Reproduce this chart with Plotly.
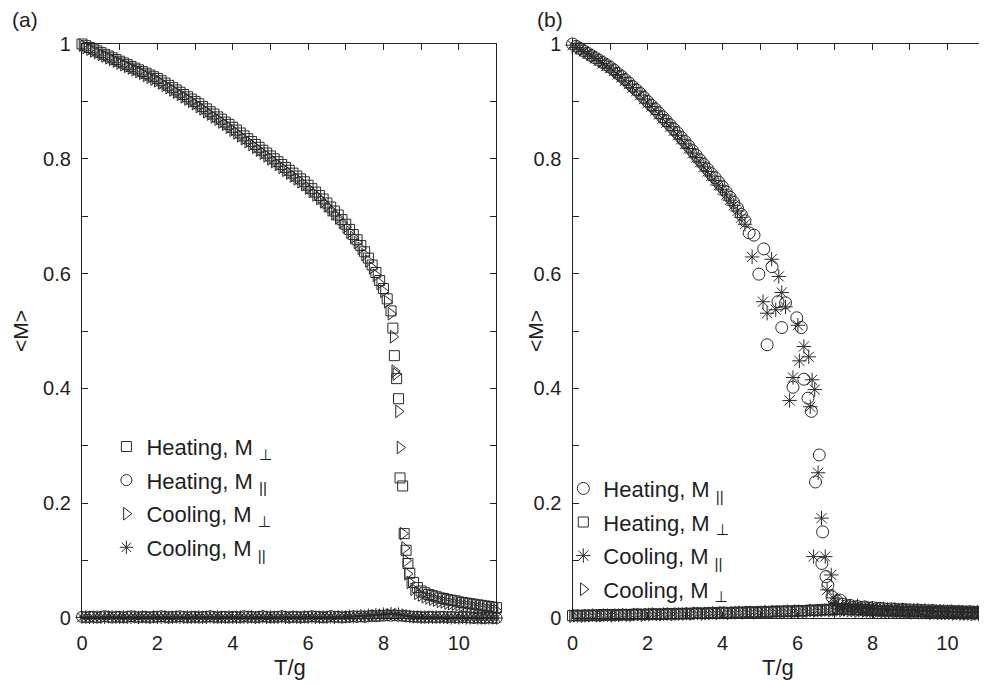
import numpy as np
import plotly.graph_objects as go

# ---------------- data: panel (a) ----------------
# upper branch (M_perp), T = 0.0 .. 8.2 step 0.1
a_sq_smooth = [1.000, 0.997, 0.994, 0.991, 0.988, 0.985, 0.982, 0.979, 0.976, 0.973,
               0.970, 0.967, 0.964, 0.961, 0.958, 0.955, 0.952, 0.949, 0.946, 0.943,
               0.940, 0.936, 0.932, 0.928, 0.924, 0.920, 0.916, 0.912, 0.908, 0.904,
               0.900, 0.896, 0.891, 0.887, 0.882, 0.878, 0.873, 0.869, 0.864, 0.860,
               0.855, 0.850, 0.845, 0.840, 0.835, 0.830, 0.825, 0.820, 0.815, 0.810,
               0.805, 0.800, 0.795, 0.790, 0.785, 0.780, 0.775, 0.770, 0.765, 0.760,
               0.754, 0.748, 0.742, 0.736, 0.730, 0.723, 0.716, 0.709, 0.702, 0.694,
               0.686, 0.677, 0.668, 0.659, 0.649, 0.638, 0.627, 0.615, 0.602, 0.588,
               0.574, 0.556, 0.535]
a_sq_tr_T = [8.25, 8.29, 8.35, 8.40, 8.44, 8.51, 8.55, 8.60, 8.65, 8.70, 8.80, 8.90]
a_sq_tr_M = [0.505, 0.457, 0.417, 0.382, 0.244, 0.230, 0.147, 0.118, 0.095, 0.078, 0.062, 0.053]
# tail, T = 9.0 .. 11.0 step 0.1
a_sq_tail = [0.047, 0.044, 0.041, 0.039, 0.037, 0.035, 0.034, 0.032, 0.031, 0.030,
             0.028, 0.027, 0.026, 0.025, 0.024, 0.023, 0.022, 0.021, 0.020, 0.019, 0.018]

a_tri_smooth = [0.998, 0.994, 0.991, 0.988, 0.985, 0.982, 0.979, 0.976, 0.973, 0.970,
                0.967, 0.964, 0.961, 0.958, 0.955, 0.952, 0.949, 0.945, 0.942, 0.939,
                0.936, 0.932, 0.928, 0.924, 0.920, 0.916, 0.912, 0.908, 0.904, 0.900,
                0.896, 0.891, 0.887, 0.882, 0.878, 0.873, 0.869, 0.864, 0.860, 0.855,
                0.850, 0.845, 0.840, 0.835, 0.830, 0.825, 0.820, 0.815, 0.810, 0.805,
                0.800, 0.795, 0.790, 0.785, 0.780, 0.775, 0.770, 0.765, 0.760, 0.755,
                0.749, 0.743, 0.737, 0.731, 0.725, 0.718, 0.711, 0.704, 0.697, 0.689,
                0.681, 0.672, 0.663, 0.654, 0.644, 0.633, 0.622, 0.610, 0.597, 0.583,
                0.569, 0.551, 0.530]
a_tri_tr_T = [8.26, 8.30, 8.33, 8.40, 8.44, 8.52, 8.56, 8.60, 8.64, 8.70, 8.80, 8.90]
a_tri_tr_M = [0.490, 0.430, 0.425, 0.360, 0.297, 0.147, 0.122, 0.100, 0.077, 0.062, 0.050, 0.043]
a_tri_tail = [0.040, 0.037, 0.035, 0.033, 0.031, 0.029, 0.028, 0.026, 0.025, 0.024,
              0.023, 0.022, 0.021, 0.020, 0.019, 0.018, 0.017, 0.016, 0.015, 0.014, 0.013]

# lower branch (M_par), T = 0.0 .. 11.0 step 0.1
a_circ = [0.002, 0.001, 0.002, 0.002, 0.001, 0.002, 0.003, 0.002, 0.001, 0.002,
          0.002, 0.001, 0.002, 0.003, 0.002, 0.001, 0.002, 0.002, 0.001, 0.002,
          0.002, 0.003, 0.002, 0.001, 0.002, 0.002, 0.003, 0.002, 0.001, 0.002,
          0.002, 0.001, 0.002, 0.002, 0.003, 0.002, 0.001, 0.002, 0.002, 0.001,
          0.002, 0.002, 0.001, 0.003, 0.002, 0.002, 0.001, 0.002, 0.003, 0.002,
          0.001, 0.002, 0.002, 0.003, 0.002, 0.001, 0.002, 0.002, 0.001, 0.002,
          0.002, 0.003, 0.002, 0.002, 0.001, 0.002, 0.003, 0.002, 0.002, 0.001,
          0.002, 0.002, 0.003, 0.002, 0.003, 0.002, 0.003, 0.004, 0.003, 0.004,
          0.004, 0.005, 0.004, 0.005, 0.004, 0.004, 0.003, 0.003, 0.002, 0.002,
          0.002, 0.001, 0.002, 0.002, 0.001, 0.002, 0.002, 0.001, 0.002, 0.001,
          0.001, 0.002, 0.001, 0.001, 0.000, 0.001, 0.000, 0.000, 0.001, 0.000, 0.000]
a_star = [0.001, 0.002, 0.001, 0.001, 0.002, 0.001, 0.001, 0.002, 0.002, 0.001,
          0.001, 0.002, 0.001, 0.001, 0.002, 0.001, 0.002, 0.001, 0.001, 0.002,
          0.001, 0.001, 0.002, 0.001, 0.001, 0.002, 0.001, 0.001, 0.002, 0.001,
          0.001, 0.002, 0.001, 0.001, 0.002, 0.001, 0.002, 0.001, 0.001, 0.002,
          0.001, 0.001, 0.002, 0.001, 0.001, 0.002, 0.001, 0.001, 0.002, 0.001,
          0.002, 0.001, 0.001, 0.002, 0.001, 0.001, 0.002, 0.001, 0.001, 0.002,
          0.001, 0.002, 0.001, 0.001, 0.002, 0.001, 0.002, 0.001, 0.002, 0.002,
          0.002, 0.003, 0.002, 0.003, 0.004, 0.003, 0.005, 0.004, 0.006, 0.005,
          0.007, 0.006, 0.008, 0.006, 0.007, 0.005, 0.004, 0.003, 0.002, 0.002,
          0.001, 0.002, 0.001, 0.001, 0.002, 0.001, 0.001, 0.001, 0.000, 0.001,
          0.000, 0.001, 0.000, 0.000, 0.001, 0.000, 0.000, 0.000, 0.000, 0.000, 0.000]

# ---------------- data: panel (b) ----------------
# upper branch (M_par) smooth, T = 0.0 .. 4.6 step 0.1
b_circ_smooth = [1.000, 0.996, 0.992, 0.988, 0.984, 0.980, 0.976, 0.972, 0.968, 0.964,
                 0.960, 0.955, 0.949, 0.944, 0.938, 0.932, 0.926, 0.920, 0.914, 0.907,
                 0.900, 0.893, 0.887, 0.880, 0.873, 0.866, 0.859, 0.852, 0.845, 0.837,
                 0.830, 0.822, 0.814, 0.806, 0.798, 0.790, 0.782, 0.774, 0.767, 0.759,
                 0.751, 0.742, 0.733, 0.724, 0.714, 0.703, 0.692]
b_circ_tr_T = [4.71, 4.84, 5.10, 4.97, 5.32, 5.48, 5.68, 5.98, 6.10, 5.58, 5.19, 6.17,
               5.88, 6.28, 6.37, 6.58, 6.48, 6.67, 6.65, 6.76, 6.81, 6.92, 7.05, 7.14]
b_circ_tr_M = [0.671, 0.667, 0.643, 0.599, 0.612, 0.551, 0.549, 0.523, 0.506, 0.506, 0.476, 0.416,
               0.402, 0.383, 0.360, 0.284, 0.237, 0.150, 0.095, 0.072, 0.057, 0.037, 0.030, 0.031]
# tail, T = 7.2 .. 11.0 step 0.1
b_circ_tail = [0.024, 0.021, 0.022, 0.019, 0.020, 0.018, 0.019, 0.017,
               0.018, 0.016, 0.017, 0.016, 0.015, 0.016, 0.015, 0.014, 0.015, 0.014,
               0.014, 0.013, 0.014, 0.013, 0.013, 0.012, 0.013, 0.012, 0.012, 0.012,
               0.011, 0.012, 0.011, 0.011, 0.011, 0.010, 0.011, 0.010, 0.010, 0.010, 0.010]

b_star_smooth = [0.998, 0.994, 0.991, 0.987, 0.983, 0.979, 0.975, 0.971, 0.966, 0.962,
                 0.958, 0.953, 0.947, 0.942, 0.936, 0.930, 0.924, 0.918, 0.911, 0.904,
                 0.897, 0.891, 0.884, 0.877, 0.870, 0.863, 0.856, 0.849, 0.841, 0.834,
                 0.826, 0.818, 0.810, 0.802, 0.794, 0.786, 0.778, 0.770, 0.762, 0.754,
                 0.746, 0.737, 0.728, 0.719, 0.709, 0.698, 0.686]
b_star_tr_T = [4.79, 5.31, 5.50, 5.58, 5.08, 5.19, 5.42, 5.68, 6.01, 6.17, 6.05, 6.30,
               5.88, 6.39, 6.46, 5.79, 6.34, 6.55, 6.64, 6.43, 6.74, 6.90, 6.79, 6.95, 7.02]
b_star_tr_M = [0.629, 0.625, 0.595, 0.567, 0.551, 0.531, 0.537, 0.542, 0.510, 0.473, 0.448, 0.455,
               0.419, 0.415, 0.398, 0.379, 0.368, 0.253, 0.174, 0.107, 0.107, 0.075, 0.049, 0.035, 0.025]
# tail, T = 7.1 .. 11.0 step 0.1
b_star_tail = [0.022, 0.020, 0.023, 0.018, 0.019, 0.021, 0.017, 0.018, 0.016,
               0.017, 0.016, 0.015, 0.016, 0.015, 0.014, 0.015, 0.014, 0.014, 0.013,
               0.013, 0.014, 0.013, 0.012, 0.013, 0.012, 0.012, 0.011, 0.012, 0.011,
               0.011, 0.011, 0.010, 0.011, 0.010, 0.010, 0.010, 0.009, 0.010, 0.009, 0.009]

# lower branch (M_perp), T = 0.0 .. 11.0 step 0.1
b_sq = [0.004, 0.004, 0.005, 0.004, 0.005, 0.005, 0.004, 0.005, 0.006, 0.005,
        0.005, 0.006, 0.005, 0.006, 0.006, 0.005, 0.006, 0.007, 0.006, 0.006,
        0.007, 0.006, 0.007, 0.007, 0.006, 0.007, 0.008, 0.007, 0.007, 0.008,
        0.008, 0.007, 0.008, 0.009, 0.008, 0.008, 0.009, 0.009, 0.008, 0.009,
        0.010, 0.009, 0.009, 0.010, 0.010, 0.009, 0.010, 0.011, 0.010, 0.010,
        0.011, 0.011, 0.010, 0.011, 0.012, 0.011, 0.012, 0.012, 0.011, 0.012,
        0.013, 0.012, 0.013, 0.013, 0.014, 0.013, 0.014, 0.015, 0.014, 0.015,
        0.016, 0.015, 0.016, 0.015, 0.015, 0.014, 0.015, 0.014, 0.014, 0.013,
        0.014, 0.013, 0.013, 0.012, 0.013, 0.012, 0.012, 0.012, 0.011, 0.012,
        0.011, 0.011, 0.012, 0.011, 0.011, 0.010, 0.011, 0.010, 0.011, 0.010,
        0.010, 0.010, 0.011, 0.010, 0.010, 0.009, 0.010, 0.010, 0.009, 0.010, 0.009]
b_tri = [0.003, 0.004, 0.004, 0.003, 0.004, 0.004, 0.005, 0.004, 0.004, 0.005,
         0.005, 0.004, 0.005, 0.005, 0.006, 0.005, 0.005, 0.006, 0.006, 0.005,
         0.006, 0.006, 0.007, 0.006, 0.006, 0.007, 0.007, 0.006, 0.007, 0.007,
         0.007, 0.008, 0.007, 0.008, 0.008, 0.007, 0.008, 0.008, 0.009, 0.008,
         0.009, 0.009, 0.008, 0.009, 0.009, 0.010, 0.009, 0.010, 0.010, 0.009,
         0.010, 0.010, 0.011, 0.010, 0.011, 0.011, 0.010, 0.011, 0.012, 0.011,
         0.012, 0.012, 0.011, 0.012, 0.013, 0.012, 0.013, 0.013, 0.014, 0.013,
         0.014, 0.014, 0.013, 0.014, 0.013, 0.013, 0.012, 0.013, 0.012, 0.012,
         0.012, 0.011, 0.012, 0.011, 0.011, 0.011, 0.010, 0.011, 0.010, 0.010,
         0.010, 0.009, 0.010, 0.009, 0.009, 0.009, 0.008, 0.009, 0.008, 0.008,
         0.008, 0.008, 0.007, 0.008, 0.007, 0.007, 0.007, 0.006, 0.007, 0.006, 0.006]

x_tickvals = [0, 2, 4, 6, 8, 10]
x_ticktext = ["0", "2", "4", "6", "8", "10"]
y_tickvals = [0, 0.2, 0.4, 0.6, 0.8, 1.0]
y_ticktext = ["0", "0.2", "0.4", "0.6", "0.8", "1"]


def grid(start, n):
    return list(np.round(start + 0.1 * np.arange(n), 2))


FONT = "Liberation Sans, Arial, DejaVu Sans, sans-serif"
COL = "#2a2a2a"
TXT = "#1e1e1e"

fig = go.Figure()


def add(x, y, symbol, size, name, xa, ya, legend, group):
    fig.add_trace(go.Scatter(
        x=x, y=y, mode="markers", name=name, xaxis=xa, yaxis=ya,
        legend=legend, legendgroup=group, cliponaxis=False,
        marker=dict(symbol=symbol, size=size, color=COL, line=dict(width=1, color=COL)),
    ))


PERP = "M <sub><span style='font-family:DejaVu Sans'>⊥</span></sub>"
PAR = "M <sub>||</sub>"

# panel (a)
add(grid(0, len(a_sq_smooth)) + a_sq_tr_T + grid(9.0, len(a_sq_tail)),
    a_sq_smooth + a_sq_tr_M + a_sq_tail, "square-open", 10,
    "Heating, " + PERP, "x", "y", "legend", "a1")
add(grid(0, len(a_circ)), a_circ, "circle-open", 11,
    "Heating, " + PAR, "x", "y", "legend", "a2")
add(grid(0, len(a_tri_smooth)) + a_tri_tr_T + grid(9.0, len(a_tri_tail)),
    a_tri_smooth + a_tri_tr_M + a_tri_tail, "triangle-right-open", 11,
    "Cooling, " + PERP, "x", "y", "legend", "a3")
add(grid(0, len(a_star)), a_star, "asterisk-open", 11,
    "Cooling, " + PAR, "x", "y", "legend", "a4")

# panel (b)
add(grid(0, len(b_circ_smooth)) + b_circ_tr_T + grid(7.2, len(b_circ_tail)),
    b_circ_smooth + b_circ_tr_M + b_circ_tail, "circle-open", 12,
    "Heating, " + PAR, "x2", "y2", "legend2", "b1")
add(grid(0, len(b_sq)), b_sq, "square-open", 10,
    "Heating, " + PERP, "x2", "y2", "legend2", "b2")
add(grid(0, len(b_star_smooth)) + b_star_tr_T + grid(7.1, len(b_star_tail)),
    b_star_smooth + b_star_tr_M + b_star_tail, "asterisk-open", 12,
    "Cooling, " + PAR, "x2", "y2", "legend2", "b3")
add(grid(0, len(b_tri)), b_tri, "triangle-right-open", 11,
    "Cooling, " + PERP, "x2", "y2", "legend2", "b4")

axis_common = dict(showline=True, linecolor="#222", linewidth=1.2, mirror="ticks",
                   ticks="inside", ticklen=6, tickwidth=1, tickcolor="#222",
                   showgrid=False, zeroline=False,
                   tickfont=dict(family=FONT, size=20, color=TXT))
xminor = dict(dtick=1, ticks="inside", ticklen=6, tickwidth=1, tickcolor="#222", showgrid=False)
yminor = dict(dtick=0.1, ticks="inside", ticklen=6, tickwidth=1, tickcolor="#222", showgrid=False)

# page body adds an 8 px offset; the figure is sized to compensate
fig.update_layout(
    width=979, height=676,
    margin=dict(l=74, r=2, t=36, b=66),
    paper_bgcolor="white", plot_bgcolor="white",
    font=dict(family=FONT, size=20, color=TXT),
    xaxis=dict(domain=[0, 0.459], range=[0, 11], tickvals=x_tickvals, ticktext=x_ticktext,
               anchor="y", ticklabelstandoff=7, minor=xminor, **axis_common),
    yaxis=dict(domain=[0, 1], range=[0, 1], tickvals=y_tickvals, ticktext=y_ticktext,
               anchor="x", ticklabelstandoff=6, minor=yminor, **axis_common),
    xaxis2=dict(domain=[0.5432, 1], range=[0, 11], tickvals=x_tickvals, ticktext=x_ticktext,
                anchor="y2", ticklabelstandoff=7, minor=xminor, **axis_common),
    yaxis2=dict(domain=[0, 1], range=[0, 1], tickvals=y_tickvals, ticktext=y_ticktext,
                anchor="x2", ticklabelstandoff=6, minor=yminor, **axis_common),
    legend=dict(x=0.027, y=0.335, xanchor="left", yanchor="top", bgcolor="rgba(0,0,0,0)",
                font=dict(family=FONT, size=22, color=TXT), tracegroupgap=2,
                traceorder="grouped"),
    legend2=dict(x=0.533, y=0.262, xanchor="left", yanchor="top", bgcolor="rgba(0,0,0,0)",
                 font=dict(family=FONT, size=22, color=TXT), tracegroupgap=2,
                 traceorder="grouped"),
    annotations=[
        dict(text="(a)", x=-0.063, y=1.042, xref="paper", yref="paper", showarrow=False,
             xanchor="center", yanchor="middle", font=dict(family=FONT, size=21, color=TXT)),
        dict(text="(b)", x=0.518, y=1.042, xref="paper", yref="paper", showarrow=False,
             xanchor="center", yanchor="middle", font=dict(family=FONT, size=21, color=TXT)),
        dict(text="&lt;M&gt;", x=-0.0687, y=0.5, xref="paper", yref="paper", showarrow=False,
             xanchor="center", yanchor="middle", textangle=-90,
             font=dict(family=FONT, size=21, color=TXT)),
        dict(text="&lt;M&gt;", x=0.5017, y=0.5, xref="paper", yref="paper", showarrow=False,
             xanchor="center", yanchor="middle", textangle=-90,
             font=dict(family=FONT, size=21, color=TXT)),
        dict(text="T/g", x=0.23, y=-0.0854, xref="paper", yref="paper", showarrow=False,
             xanchor="center", yanchor="middle", font=dict(family=FONT, size=22, color=TXT)),
        dict(text="T/g", x=0.771, y=-0.0854, xref="paper", yref="paper", showarrow=False,
             xanchor="center", yanchor="middle", font=dict(family=FONT, size=22, color=TXT)),
    ],
)

fig.write_html("out.html")
